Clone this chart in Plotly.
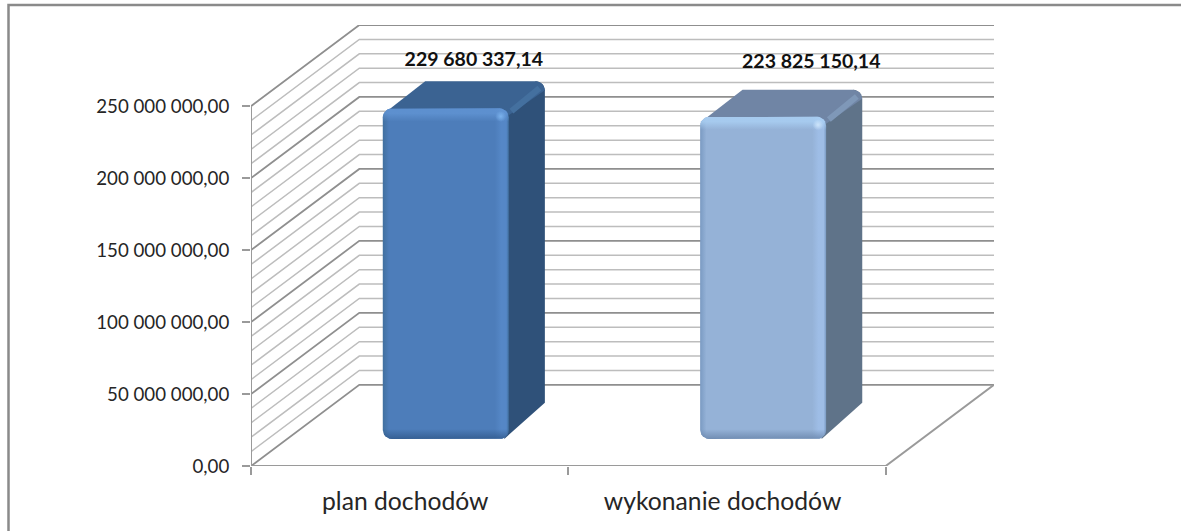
import numpy as np
import plotly.graph_objects as go

categories = ['plan dochodów', 'wykonanie dochodów']
values = [229680337.14, 223825150.14]
y_ticks = [0, 50000000, 100000000, 150000000, 200000000, 250000000]
minor_step = 10000000

# pixel sizes of the pseudo 3D box, the chart is drawn on plain 2D axes
LEFT, RIGHT, TOP, BOTTOM = 251, 994, 25, 466
CAT_PX = 316.5
VAL_PX = 359 / 250000000
WALL_DX, WALL_DY = 108 / CAT_PX, 81 / VAL_PX
BAR_DX, BAR_DY = 36 / CAT_PX, 27 / VAL_PX
BAR_WIDTH = 0.397
RADIUS = 9

front_colors = [
    {'edge': '#41709f', 'main': '#4d7dba', 'light': '#5587c6', 'top': 'rgba(100,152,216,0.7)',
     'bottom': 'rgba(48,88,138,0.8)', 'glow': 'rgba(125,180,238,0.95)', 'glow_end': 'rgba(125,180,238,0)'},
    {'edge': '#7a9ac2', 'main': '#95b2d7', 'light': '#9ebde6', 'top': 'rgba(170,208,244,0.8)',
     'bottom': 'rgba(104,132,170,0.8)', 'glow': 'rgba(207,230,251,0.95)', 'glow_end': 'rgba(207,230,251,0)'},
]
side_colors = ['#2f5179', '#5f7389']
top_colors = ['#3b6392', '#7085a5']
strip_colors = ['#44709f', '#7f98b8']
label_shift = [10 / CAT_PX, 30 / CAT_PX]
label_rise = [47 / VAL_PX, 54 / VAL_PX]


def fmt(v, dec=2):
    return f'{v:,.{dec}f}'.replace(',', ' ').replace('.', ',')


def arc(cx, cy, start, stop, r=RADIUS):
    t = np.radians(np.linspace(start, stop, 7))
    return list(cx + r * np.cos(t) / CAT_PX), list(cy + r * np.sin(t) / VAL_PX)


def rounded_rect(x0, x1, y0, y1, r=RADIUS):
    rx, ry = r / CAT_PX, r / VAL_PX
    xs, ys = [], []
    for cx, cy, a in [(x0 + rx, y0 + ry, 180), (x1 - rx, y0 + ry, 270), (x1 - rx, y1 - ry, 0), (x0 + rx, y1 - ry, 90)]:
        ax, ay = arc(cx, cy, a, a + 90, r)
        xs += ax
        ys += ay
    return xs + xs[:1], ys + ys[:1]


def poly(fig, xs, ys, color):
    fig.add_trace(go.Scatter(x=xs, y=ys, mode='lines', fill='toself', fillcolor=color,
                             line=dict(width=0), hoverinfo='skip', showlegend=False))


def wall_lines(fig, levels, color, width):
    xs, ys = [], []
    for v in levels:
        xs += [-0.5, -0.5 + WALL_DX, 1.5 + WALL_DX, None]
        ys += [v, v + WALL_DY, v + WALL_DY, None]
    fig.add_trace(go.Scatter(x=xs, y=ys, mode='lines', line=dict(color=color, width=width),
                             cliponaxis=False, hoverinfo='skip', showlegend=False))


def draw_bar(fig, i, value):
    c = front_colors[i]
    x0 = i - BAR_WIDTH / 2 + BAR_DX
    x1 = x0 + BAR_WIDTH
    y0 = BAR_DY
    y1 = y0 + value
    rx, ry = RADIUS / CAT_PX, RADIUS / VAL_PX

    # side face, the lower back corner is cut off like in the original
    ax, ay = arc(x1 + BAR_DX - rx, y1 + BAR_DY - ry, 90, 0)
    ax, ay = ax[::-1], ay[::-1]
    poly(fig, [x1 - rx * 0.5, x1 + BAR_DX, x1 + BAR_DX] + ax[1:] + [x1 - rx, x1 - rx * 0.5],
         [y0, y0 + BAR_DY + ry, y1 + BAR_DY - ry] + ay[1:] + [y1, y0], side_colors[i])

    # top face
    ax, ay = arc(x1 + BAR_DX - rx, y1 + BAR_DY - ry, 90, 0)
    poly(fig, [x0 + rx * 0.2, x0 + BAR_DX + rx * 0.7] + ax + [x1 - rx * 0.2, x0 + rx * 0.2],
         [y1 - ry * 0.5, y1 + BAR_DY] + ay + [y1 - ry * 0.9, y1 - ry * 0.5], top_colors[i])
    fig.add_trace(go.Scatter(x=[x1 + rx * 0.3, x1 + BAR_DX - rx * 0.6],
                             y=[y1 - ry * 0.3, y1 + BAR_DY - ry * 0.75], mode='lines',
                             line=dict(color=strip_colors[i], width=6), hoverinfo='skip', showlegend=False))

    # front face, sideways gradient first and then the top and bottom bevels on it
    xs, ys = rounded_rect(x0, x1, y0, y1)
    fig.add_trace(go.Scatter(
        x=xs, y=ys, mode='lines', line=dict(width=0), fill='toself', hoverinfo='skip', showlegend=False,
        fillgradient=dict(type='horizontal', colorscale=[
            [0, c['edge']], [0.05, c['main']], [0.89, c['main']], [0.94, c['light']],
            [0.98, c['light']], [1, c['edge']]])))
    clear_top = c['top'].rsplit(',', 1)[0] + ',0)'
    clear_bottom = c['bottom'].rsplit(',', 1)[0] + ',0)'
    fig.add_trace(go.Scatter(
        x=xs, y=ys, mode='lines', line=dict(width=0), fill='toself', hoverinfo='skip', showlegend=False,
        fillgradient=dict(type='vertical', colorscale=[
            [0, c['bottom']], [0.03, clear_bottom], [0.96, clear_top], [0.985, c['top']], [1, c['top']]])))
    # small shine at the front top right corner
    fig.add_trace(go.Scatter(x=[x1 - 8 / CAT_PX], y=[y1 - 8 / VAL_PX], mode='markers',
                             marker=dict(size=11, color=c['glow_end'], line=dict(width=0),
                                         gradient=dict(type='radial', color=c['glow'])),
                             hoverinfo='skip', showlegend=False))

    fig.add_trace(go.Scatter(x=[(x0 + x1) / 2 + BAR_DX / 2 + label_shift[i]], y=[y1 + label_rise[i]],
                             mode='text', text=[fmt(value)], cliponaxis=False,
                             textfont=dict(family='Lato', size=19.5, color='#111111', weight='bold'),
                             hoverinfo='skip', showlegend=False))


fig = go.Figure()

# back wall and left wall lines
levels = list(range(0, 250000001, minor_step))
wall_lines(fig, [v for v in levels if v not in y_ticks], '#bdbdbd', 1.5)
wall_lines(fig, y_ticks, '#8f8f8f', 1.8)

# axis lines and the floor edge
fig.add_trace(go.Scatter(x=[-0.5, -0.5, None, -0.5, 1.5, 1.5 + WALL_DX], y=[y_ticks[-1], 0, None, 0, 0, WALL_DY],
                         mode='lines', line=dict(color='#9a9a9a', width=2), cliponaxis=False,
                         hoverinfo='skip', showlegend=False))

for i, value in enumerate(values):
    draw_bar(fig, i, value)

to_x = lambda px: (px - LEFT) / (RIGHT - LEFT)
to_y = lambda px: (BOTTOM - px) / (BOTTOM - TOP)
fig.update_layout(
    width=1181, height=531,
    margin=dict(l=LEFT, r=1181 - RIGHT, t=TOP, b=531 - BOTTOM),
    paper_bgcolor='white', plot_bgcolor='white',
    showlegend=False,
    font=dict(family='Lato', color='#262626'),
    xaxis=dict(range=[-0.5, 1.5 + WALL_DX], showgrid=False, zeroline=False, showline=False,
               tickvals=[0 - 0.014, 1 - 0.014], ticktext=categories, ticks='',
               tickfont=dict(size=24.7), ticklabelstandoff=18,
               minor=dict(tick0=-0.5, dtick=1, ticks='outside', ticklen=8, tickwidth=2, tickcolor='#9a9a9a')),
    yaxis=dict(range=[0, y_ticks[-1] + WALL_DY], showgrid=False, zeroline=False, showline=False,
               tickvals=y_ticks, ticktext=[fmt(v) for v in y_ticks], ticks='outside', ticklen=8,
               tickwidth=2, tickcolor='#9a9a9a', tickfont=dict(size=18.7), ticklabelstandoff=9),
    shapes=[dict(type='path', xref='paper', yref='paper', line=dict(color='#8a8a8a', width=2.5),
                 path=f'M {to_x(8.5)} {to_y(531)} L {to_x(8.5)} {to_y(5)} L {to_x(1181)} {to_y(5)}')],
)

# the default 8px page margin would push the fixed size figure out of the window
fig.write_html("out.html", config={'displayModeBar': False}, post_script="document.body.style.margin='0';")
